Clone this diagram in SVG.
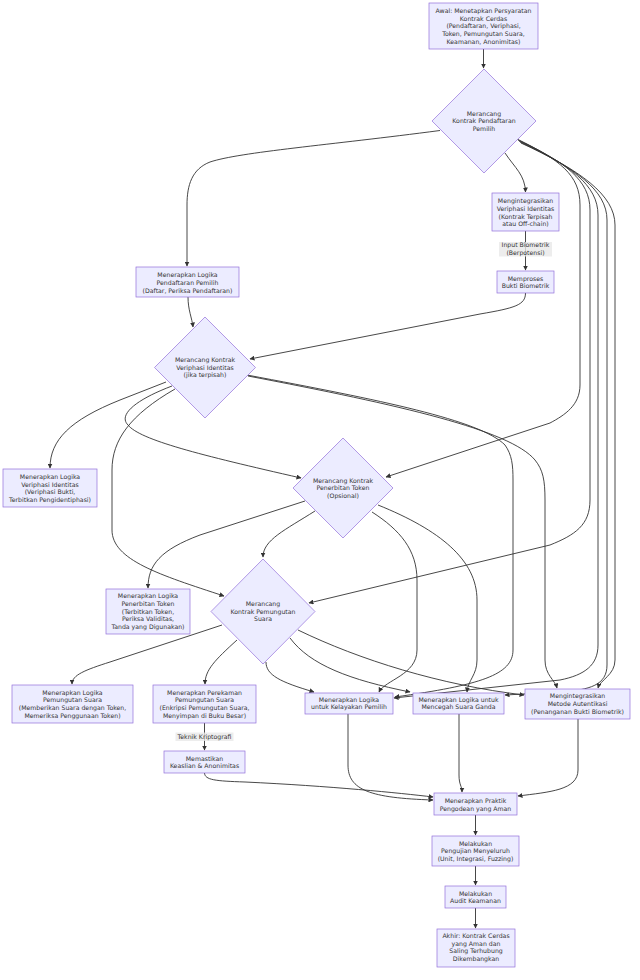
<svg xmlns="http://www.w3.org/2000/svg" width="640" height="980" viewBox="0 0 640 980">
<style>
.n rect,.n polygon{fill:#ECECFF;stroke:#9370DB;stroke-width:0.7}
.t{font-family:"DejaVu Sans",Verdana,sans-serif;font-size:6.2px;fill:#333;text-anchor:middle}
.e path{fill:none;stroke:#333;stroke-width:0.9;marker-end:url(#arr)}
.lb{fill:#e8e8e8;fill-opacity:0.8}
</style>
<defs>
<marker id="arr" viewBox="0 0 10 10" refX="9" refY="5" markerWidth="5" markerHeight="5" orient="auto" markerUnits="userSpaceOnUse">
<path d="M0,0 L10,5 L0,10 z" fill="#333"/>
</marker>
</defs>
<rect width="640" height="980" fill="#fff"/>
<g id="edges" class="e">
<path d="M483.5,49 L483.5,68"/>
<path d="M440,130.5 C330,145 240,152 210,162 C192,169 187,185 187,205 L187,266"/>
<path d="M505,153 C515,168 525,175 525.5,192"/>
<path d="M525.5,231 L525.5,270"/>
<path d="M525.5,293 C525.5,305 515,308 480,314 L250,359"/>
<path d="M188,297 C188,310 192,318 193,327"/>
<path d="M517,139 C560,160 580,175 580,205 L580,385 C580,405 565,415 550,423 L386,477"/>
<path d="M518,140 C565,162 590,180 590,210 L590,500 C590,525 575,535 550,545 L309,603"/>
<path d="M519,141 C570,165 598,185 598,215 L598,645 C598,665 585,675 560,680 L394,698"/>
<path d="M520,142 C575,168 607,190 607,220 L607,665 C607,685 590,690 560,692 L505,695"/>
<path d="M521,143 C580,170 615,195 615,225 L615,660 C615,675 600,680 598,688"/>
<path d="M166,382 L120,400 C70,420 50,440 50,468"/>
<path d="M172,386 C135,400 118,415 128,425 C140,440 200,455 301,478"/>
<path d="M175,389 C130,415 112,440 112,470 L112,530 C112,560 160,575 224,596"/>
<path d="M247,375 C380,400 480,420 505,445 C512,455 513,465 513,480 L513,650 C513,675 480,685 395,697"/>
<path d="M248,376 C400,405 510,430 535,460 C543,470 545,480 545,500 L545,660 C545,675 555,680 557,688"/>
<path d="M305,501 L200,535 C160,550 148,565 148,588"/>
<path d="M315,511 C285,530 263,540 263,557"/>
<path d="M372,512 C400,530 417,550 417,580 L417,650 C417,675 385,680 379,692"/>
<path d="M378,505 C440,530 477,560 477,600 L477,660 C477,675 468,680 467,692"/>
<path d="M222,625 L110,662 C85,670 72,675 72,684"/>
<path d="M237,640 C215,660 205,670 205,684"/>
<path d="M266,662 C266,675 280,682 314,692"/>
<path d="M290,638 C310,665 350,680 410,692"/>
<path d="M298,630 C360,660 440,685 524,695"/>
<path d="M204.5,723 L204.5,750"/>
<path d="M204.5,773 C205,780 215,781 245,782 C330,786 400,793 433,797"/>
<path d="M348,714 L348,765 C348,790 370,798 433,800"/>
<path d="M459,714 L459,775 C459,785 462,786 462,792"/>
<path d="M578,719 L578,770 C578,790 550,792 518,796"/>
<path d="M475.5,815 L475.5,835"/>
<path d="M475.5,866 L475.5,885"/>
<path d="M475.5,908 L475.5,928"/>
</g>
<g id="edge-labels">
<rect class="lb" x="499" y="242" width="53" height="14.5"/>
<text class="t" x="525.5"><tspan x="525.5" y="247.2">Input Biometrik</tspan><tspan x="525.5" y="254.9">(Berpotensi)</tspan></text>
<rect class="lb" x="175.5" y="732.5" width="58" height="8.5"/>
<text class="t" x="204.5" y="739.2">Teknik Kriptografi</text>
</g>
<g id="A" class="n"><rect x="429" y="3" width="109" height="46"/>
<text class="t"><tspan x="483.5" y="12.8">Awal: Menetapkan Persyaratan</tspan><tspan x="483.5" y="20.5">Kontrak Cerdas</tspan><tspan x="483.5" y="28.2">(Pendaftaran, Veriphasi,</tspan><tspan x="483.5" y="35.9">Token, Pemungutan Suara,</tspan><tspan x="483.5" y="43.6">Keamanan, Anonimitas)</tspan></text></g>
<g id="B" class="n"><polygon points="484,69 536,121 484,173 432,121"/>
<text class="t"><tspan x="484" y="115.5">Merancang</tspan><tspan x="484" y="123.2">Kontrak Pendaftaran</tspan><tspan x="484" y="130.9">Pemilih</tspan></text></g>
<g id="C" class="n"><rect x="492" y="193" width="67" height="38"/>
<text class="t"><tspan x="525.5" y="203.2">Mengintegrasikan</tspan><tspan x="525.5" y="210.9">Veriphasi Identitas</tspan><tspan x="525.5" y="218.6">(Kontrak Terpisah</tspan><tspan x="525.5" y="226.3">atau Off-chain)</tspan></text></g>
<g id="D" class="n"><rect x="497" y="271" width="57" height="22"/>
<text class="t"><tspan x="525.5" y="280.5">Memproses</tspan><tspan x="525.5" y="288.2">Bukti Biometrik</tspan></text></g>
<g id="E" class="n"><rect x="136" y="267" width="103" height="30"/>
<text class="t"><tspan x="187.5" y="277.2">Menerapkan Logika</tspan><tspan x="187.5" y="284.9">Pendaftaran Pemilih</tspan><tspan x="187.5" y="292.6">(Daftar, Periksa Pendaftaran)</tspan></text></g>
<g id="F" class="n"><polygon points="205,317 255.5,367.5 205,418 154.5,367.5"/>
<text class="t"><tspan x="205" y="361.8">Merancang Kontrak</tspan><tspan x="205" y="369.5">Veriphasi Identitas</tspan><tspan x="205" y="377.2">(jika terpisah)</tspan></text></g>
<g id="G" class="n"><rect x="3" y="469" width="94" height="38"/>
<text class="t"><tspan x="50" y="478.9">Menerapkan Logika</tspan><tspan x="50" y="486.6">Veriphasi Identitas</tspan><tspan x="50" y="494.3">(Veriphasi Bukti,</tspan><tspan x="50" y="502">Terbitkan Pengidentiphasi)</tspan></text></g>
<g id="H" class="n"><polygon points="343,438 393,488 343,538 293,488"/>
<text class="t"><tspan x="343" y="482.5">Merancang Kontrak</tspan><tspan x="343" y="490.2">Penerbitan Token</tspan><tspan x="343" y="497.9">(Opsional)</tspan></text></g>
<g id="I" class="n"><rect x="106" y="589" width="84" height="45"/>
<text class="t"><tspan x="148" y="598.2">Menerapkan Logika</tspan><tspan x="148" y="605.9">Penerbitan Token</tspan><tspan x="148" y="613.6">(Terbitkan Token,</tspan><tspan x="148" y="621.3">Periksa Validitas,</tspan><tspan x="148" y="629">Tanda yang Digunakan)</tspan></text></g>
<g id="J" class="n"><polygon points="263,559 315,611.5 263,664 211,611.5"/>
<text class="t"><tspan x="263" y="605.9">Merancang</tspan><tspan x="263" y="613.6">Kontrak Pemungutan</tspan><tspan x="263" y="621.3">Suara</tspan></text></g>
<g id="K" class="n"><rect x="12" y="685" width="121" height="38"/>
<text class="t"><tspan x="72.5" y="694.5">Menerapkan Logika</tspan><tspan x="72.5" y="702.2">Pemungutan Suara</tspan><tspan x="72.5" y="709.9">(Memberikan Suara dengan Token,</tspan><tspan x="72.5" y="717.6">Memeriksa Penggunaan Token)</tspan></text></g>
<g id="L" class="n"><rect x="153" y="685" width="103" height="38"/>
<text class="t"><tspan x="204.5" y="694.5">Menerapkan Perekaman</tspan><tspan x="204.5" y="702.2">Pemungutan Suara</tspan><tspan x="204.5" y="709.9">(Enkripsi Pemungutan Suara,</tspan><tspan x="204.5" y="717.6">Menyimpan di Buku Besar)</tspan></text></g>
<g id="M" class="n"><rect x="164" y="751" width="81" height="22"/>
<text class="t"><tspan x="204.5" y="760.5">Memastikan</tspan><tspan x="204.5" y="768.2">Keaslian &amp; Anonimitas</tspan></text></g>
<g id="N" class="n"><rect x="305" y="693" width="88" height="21"/>
<text class="t"><tspan x="349" y="701.7">Menerapkan Logika</tspan><tspan x="349" y="709.4">untuk Kelayakan Pemilih</tspan></text></g>
<g id="O" class="n"><rect x="413" y="693" width="91" height="21"/>
<text class="t"><tspan x="458.5" y="701.7">Menerapkan Logika untuk</tspan><tspan x="458.5" y="709.4">Mencegah Suara Ganda</tspan></text></g>
<g id="P" class="n"><rect x="525" y="689" width="105" height="30"/>
<text class="t"><tspan x="577.5" y="698.2">Mengintegrasikan</tspan><tspan x="577.5" y="705.9">Metode Autentikasi</tspan><tspan x="577.5" y="713.6">(Penanganan Bukti Biometrik)</tspan></text></g>
<g id="Q" class="n"><rect x="434" y="793" width="83" height="22"/>
<text class="t"><tspan x="475.5" y="802.8">Menerapkan Praktik</tspan><tspan x="475.5" y="810.5">Pengodean yang Aman</tspan></text></g>
<g id="R" class="n"><rect x="432" y="836" width="87" height="30"/>
<text class="t"><tspan x="475.5" y="845.5">Melakukan</tspan><tspan x="475.5" y="853.2">Pengujian Menyeluruh</tspan><tspan x="475.5" y="860.9">(Unit, Integrasi, Fuzzing)</tspan></text></g>
<g id="S" class="n"><rect x="445" y="886" width="61" height="22"/>
<text class="t"><tspan x="475.5" y="895.5">Melakukan</tspan><tspan x="475.5" y="903.2">Audit Keamanan</tspan></text></g>
<g id="T" class="n"><rect x="437" y="929" width="78" height="38"/>
<text class="t"><tspan x="476" y="937.9">Akhir: Kontrak Cerdas</tspan><tspan x="476" y="945.6">yang Aman dan</tspan><tspan x="476" y="953.3">Saling Terhubung</tspan><tspan x="476" y="961">Dikembangkan</tspan></text></g>
</svg>
